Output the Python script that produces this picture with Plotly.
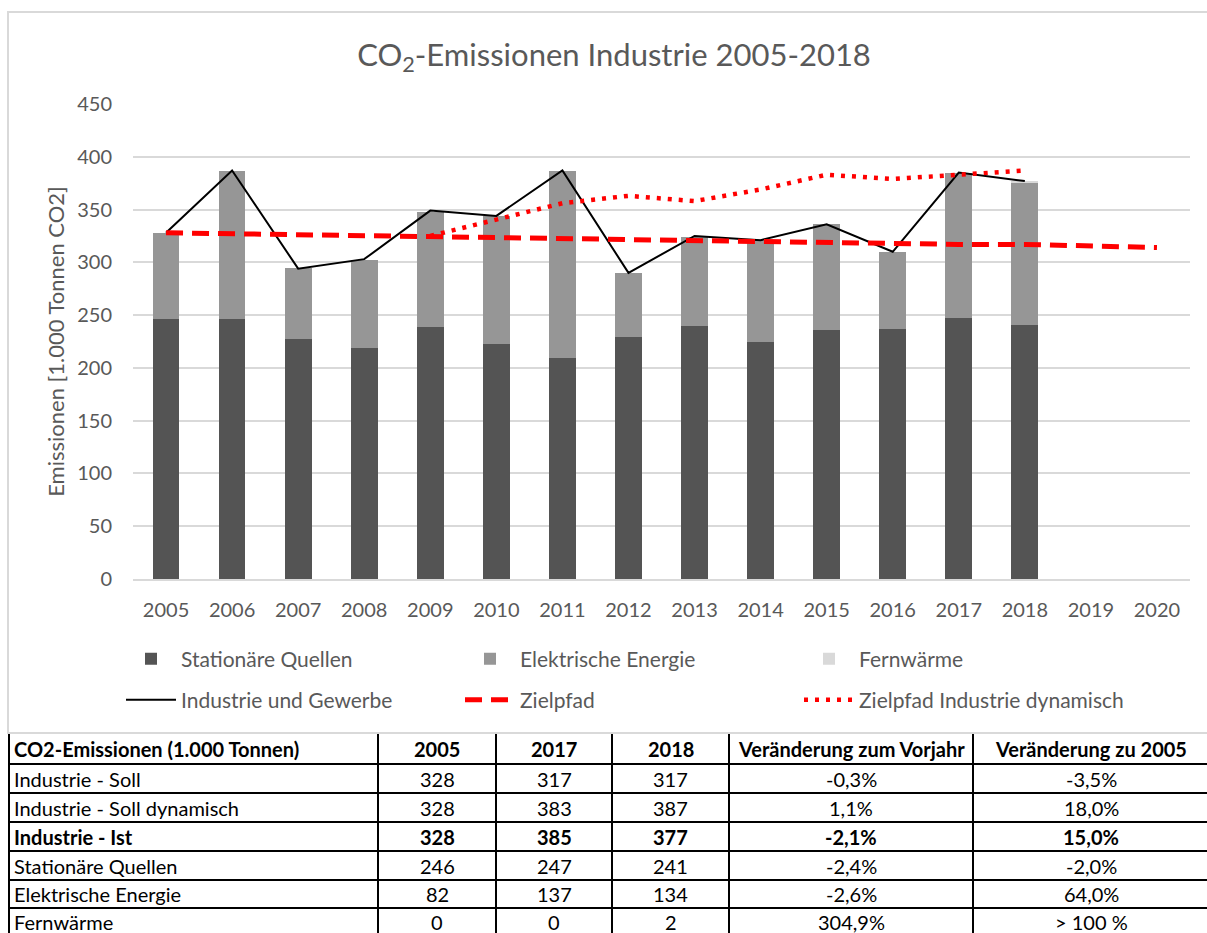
import plotly.graph_objects as go

# ---------------- data ----------------
years = ["2005", "2006", "2007", "2008", "2009", "2010", "2011", "2012",
         "2013", "2014", "2015", "2016", "2017", "2018", "2019", "2020"]
bar_years = years[:14]
stationaer = [246, 246, 227, 219, 239, 223, 209, 229, 240, 225, 236, 237, 247, 241]
elektrisch = [82, 141, 68, 83, 109, 121, 178, 61, 84, 96, 100, 73, 138, 134]
fernwaerme = [0, 0, 0, 0, 0, 0, 0, 0, 0, 0, 0, 0, 0, 2]
industrie = [328, 387, 294, 303, 349, 344, 387, 290, 325, 321, 336, 310, 385, 377]
zielpfad = [328, 327, 327, 326, 325, 324, 323, 322, 321, 320, 319, 318, 317, 317, 315, 314]
dyn_years = ["2009", "2010", "2011", "2012", "2013", "2014", "2015", "2016", "2017", "2018"]
zielpfad_dyn = [325, 341, 356, 363, 358, 369, 383, 379, 383, 387]

y_ticks = [0, 50, 100, 150, 200, 250, 300, 350, 400, 450]

tbl_header = ["CO2-Emissionen (1.000 Tonnen)", "2005", "2017", "2018",
              "Veränderung zum Vorjahr", "Veränderung zu 2005"]
tbl_rows = ["Industrie - Soll", "Industrie - Soll dynamisch", "Industrie - Ist",
            "Stationäre Quellen", "Elektrische Energie", "Fernwärme"]
tbl_2005 = ["328", "328", "328", "246", "82", "0"]
tbl_2017 = ["317", "383", "385", "247", "137", "0"]
tbl_2018 = ["317", "387", "377", "241", "134", "2"]
tbl_vorjahr = ["-0,3%", "1,1%", "-2,1%", "-2,4%", "-2,6%", "304,9%"]
tbl_zu2005 = ["-3,5%", "18,0%", "15,0%", "-2,0%", "64,0%", "> 100 %"]
bold_row = 2

# ---------------- layout geometry (pixels) ----------------
W, H = 1207, 933
FONT = "Lato"
GREY = "#595959"
tbl_col_edges = [9, 378, 496, 612, 729, 973, 1209]
tbl_row_edges = [734, 764, 793, 822, 851, 880, 908, 937]


def px_x(p):
    return p / W


def px_y(p):
    return 1 - p / H


fig = go.Figure()

fig.add_trace(go.Bar(x=bar_years, y=stationaer, name="Stationäre Quellen",
                     marker=dict(color="#545454", line=dict(width=0)), legend="legend"))
fig.add_trace(go.Bar(x=bar_years, y=elektrisch, name="Elektrische Energie",
                     marker=dict(color="#969696", line=dict(width=0)), legend="legend"))
fig.add_trace(go.Bar(x=bar_years, y=fernwaerme, name="Fernwärme",
                     marker=dict(color="#d9d9d9", line=dict(width=0)), legend="legend"))

fig.add_trace(go.Scatter(x=bar_years, y=industrie, name="Industrie und Gewerbe",
                         mode="lines", line=dict(color="black", width=2), legend="legend2"))
fig.add_trace(go.Scatter(x=years, y=zielpfad, name="Zielpfad", mode="lines",
                         line=dict(color="#ff0000", width=5, dash="17px,9px"), legend="legend2"))
fig.add_trace(go.Scatter(x=dyn_years, y=zielpfad_dyn, name="Zielpfad Industrie dynamisch",
                         mode="lines", line=dict(color="#ff0000", width=4.5, dash="4px,7px"),
                         legend="legend2"))

# ---------------- table (lines + text built from the table lists) ----------------
shapes = [dict(type="rect", xref="paper", yref="paper",
               x0=px_x(8), x1=1.01, y0=px_y(733), y1=px_y(12),
               line=dict(color="#d9d9d9", width=2), layer="below")]
for ye in tbl_row_edges[1:]:
    shapes.append(dict(type="line", xref="paper", yref="paper",
                       x0=px_x(tbl_col_edges[0]), x1=px_x(tbl_col_edges[-1]),
                       y0=px_y(ye), y1=px_y(ye), line=dict(color="black", width=2)))
for xe in tbl_col_edges:
    shapes.append(dict(type="line", xref="paper", yref="paper",
                       x0=px_x(xe), x1=px_x(xe),
                       y0=px_y(tbl_row_edges[0]), y1=px_y(tbl_row_edges[-1]),
                       line=dict(color="black", width=2)))

columns = [tbl_rows, tbl_2005, tbl_2017, tbl_2018, tbl_vorjahr, tbl_zu2005]
annotations = []
for ci in range(6):
    texts = [tbl_header[ci]] + columns[ci]
    for ri, t in enumerate(texts):
        bold = (ri == 0) or (ri - 1 == bold_row)
        label = "<b>%s</b>" % t if bold else t
        yc = (tbl_row_edges[ri] + tbl_row_edges[ri + 1]) / 2
        if ri == len(texts) - 1:
            yc -= 1
        if ci == 0:
            xpos, xanc = px_x(tbl_col_edges[0] + 3), "left"
        else:
            xpos, xanc = px_x((tbl_col_edges[ci] + tbl_col_edges[ci + 1]) / 2), "center"
        annotations.append(dict(text=label, xref="paper", yref="paper", x=xpos, y=px_y(yc),
                                xanchor=xanc, yanchor="middle", showarrow=False,
                                font=dict(family=FONT, size=20, color="black")))

fig.update_layout(
    width=W, height=H,
    margin=dict(l=0, r=0, t=0, b=0, autoexpand=False),
    paper_bgcolor="white", plot_bgcolor="white",
    barmode="stack", bargap=0.595,
    font=dict(family=FONT, color=GREY),
    title=dict(text="CO<sub>2</sub>-Emissionen Industrie 2005-2018",
               x=px_x(614), xanchor="center", y=px_y(55), yanchor="middle",
               font=dict(family=FONT, size=31, color=GREY)),
    xaxis=dict(domain=[px_x(133), px_x(1190)], type="category",
               categoryorder="array", categoryarray=years, range=[-0.5, 15.5],
               showgrid=False, showline=True, linecolor="#d9d9d9", linewidth=1.5,
               ticks="", tickfont=dict(size=20, color=GREY), ticklabelstandoff=12,
               automargin=False),
    yaxis=dict(domain=[px_y(579), px_y(104)], range=[0, 450], tickvals=y_ticks,
               showgrid=True, gridcolor="#d9d9d9", gridwidth=1.5, zeroline=False,
               showline=False, ticks="", tickfont=dict(size=20, color=GREY),
               ticklabelstandoff=20, automargin=False,
               title=dict(text="Emissionen [1.000 Tonnen CO2]", standoff=6,
                          font=dict(size=22, color=GREY))),
    legend=dict(orientation="h", x=px_x(121), xanchor="left", y=px_y(659), yanchor="middle",
                entrywidth=274, entrywidthmode="pixels", itemwidth=50,
                bgcolor="rgba(0,0,0,0)", font=dict(size=21, color=GREY), traceorder="normal"),
    legend2=dict(orientation="h", x=px_x(121), xanchor="left", y=px_y(700), yanchor="middle",
                 entrywidth=274, entrywidthmode="pixels", itemwidth=50,
                 bgcolor="rgba(0,0,0,0)", font=dict(size=21, color=GREY), traceorder="normal"),
    shapes=shapes,
    annotations=annotations,
)

fig.write_html("out.html", config={"displayModeBar": False},
               post_script="document.body.style.margin='0px';")
